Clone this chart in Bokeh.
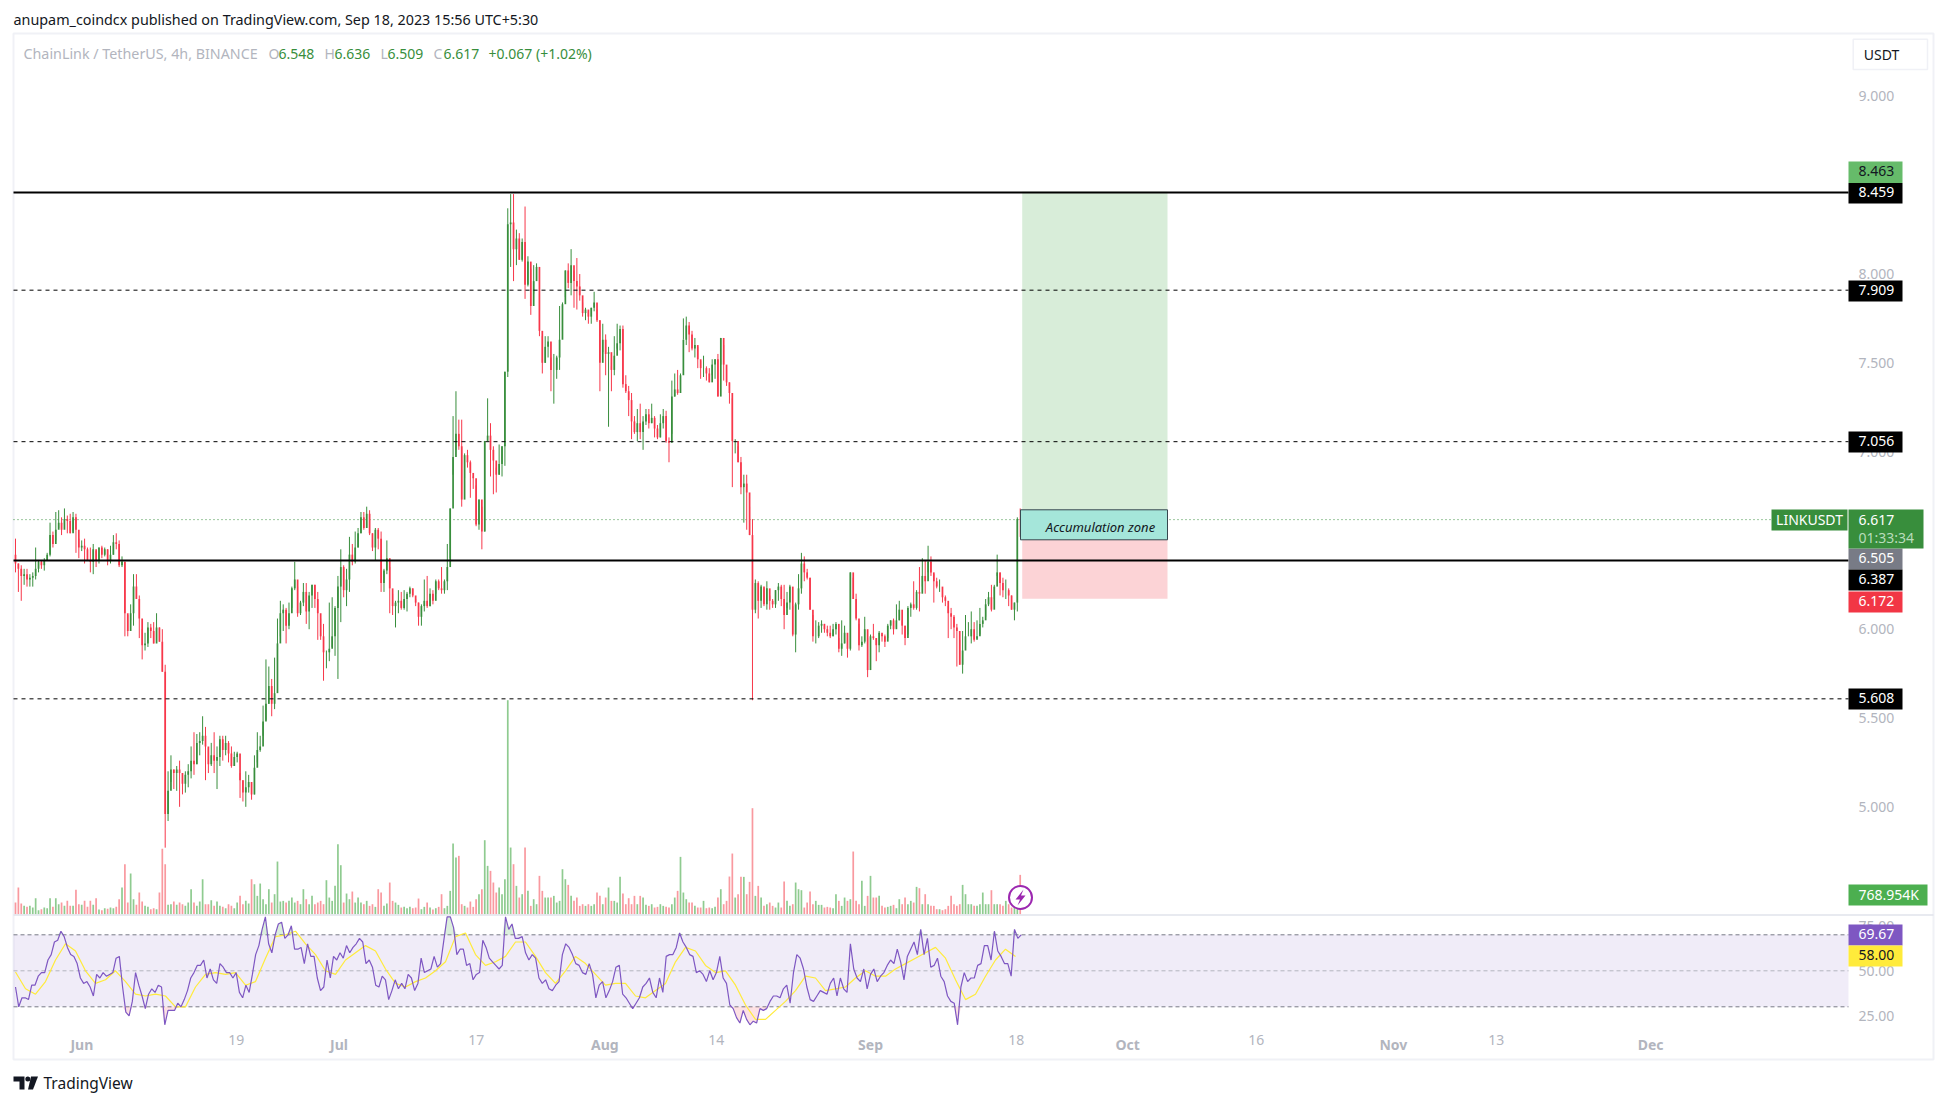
import numpy as np
from bokeh.plotting import figure
from bokeh.embed import file_html
from bokeh.resources import INLINE
from bokeh.core.properties import value
from bokeh.models import Range1d, LinearAxis, FixedTicker

FONT = "Noto Sans"

# ---- data: (close, high, low), about one bar per 8h ----
bars_may_jun = [
(6.37,6.51,6.32),(6.34,6.37,6.21),(6.30,6.36,6.16),(6.31,6.34,6.25),(6.28,6.34,6.24),(6.29,6.31,6.24),(6.30,6.32,6.24),(6.34,6.46,6.28),(6.38,6.39,6.32),(6.36,6.39,6.34),
(6.39,6.40,6.33),(6.42,6.43,6.39),(6.53,6.60,6.41),(6.48,6.55,6.46),(6.56,6.66,6.50),(6.60,6.67,6.57),(6.56,6.63,6.53),(6.62,6.68,6.59),(6.61,6.64,6.54),(6.54,6.65,6.54),
(6.63,6.66,6.55),(6.56,6.65,6.43),(6.46,6.51,6.40),(6.47,6.50,6.44),(6.45,6.51,6.37),(6.39,6.46,6.39),(6.38,6.46,6.32),(6.45,6.48,6.31),(6.39,6.44,6.35),(6.46,6.46,6.37),
(6.42,6.47,6.40),(6.45,6.46,6.41),(6.39,6.45,6.36),(6.42,6.47,6.37),(6.49,6.53,6.42),(6.48,6.54,6.45),(6.36,6.50,6.35),(6.38,6.41,6.35),(6.09,6.38,5.96),(5.99,6.08,5.96),
(6.09,6.14,6.05),(6.24,6.31,6.02),(6.17,6.31,6.17),(6.06,6.19,5.95),(5.91,6.00,5.83),(5.92,5.98,5.88),(6.01,6.04,5.90),(5.99,6.03,5.95),(5.92,6.04,5.92),(6.01,6.09,5.93),
(5.93,6.01,5.93),(5.76,6.00,5.76),(4.96,5.80,4.77),(5.09,5.20,4.92),(5.21,5.29,5.14),(5.19,5.21,5.10),(5.21,5.23,5.09),(5.19,5.26,5.00),(5.13,5.19,5.07),(5.18,5.20,5.08),
(5.20,5.24,5.11),(5.26,5.34,5.16),(5.24,5.42,5.18),(5.36,5.41,5.24),(5.37,5.42,5.29),(5.40,5.51,5.35),(5.34,5.45,5.15),(5.24,5.33,5.19),(5.29,5.36,5.23),(5.26,5.42,5.19),
(5.28,5.34,5.10),(5.38,5.40,5.23),(5.32,5.40,5.26),(5.36,5.40,5.29),(5.30,5.37,5.25),(5.23,5.34,5.22),(5.28,5.31,5.23),(5.30,5.31,5.25),(5.15,5.19,5.05),(5.08,5.15,5.03),
(5.11,5.20,5.00),(5.14,5.18,5.08),(5.07,5.13,5.04),(5.22,5.29,5.07),(5.32,5.42,5.25),(5.34,5.40,5.31),(5.48,5.57,5.40),(5.58,5.83,5.49),(5.68,5.79,5.58),(5.58,5.72,5.51),
(5.64,5.84,5.55),(5.92,6.06,5.77),(6.09,6.16,5.96),(6.11,6.14,5.99),(6.02,6.12,5.92),(6.09,6.15,6.00),(6.23,6.24,6.12),(6.28,6.38,6.22),(6.09,6.24,6.07),(6.15,6.16,6.08),
(6.21,6.26,6.13),(6.10,6.26,6.03),(6.19,6.21,6.00),(6.25,6.25,6.12),(6.17,6.25,6.12),(6.09,6.21,5.94),(5.96,6.06,5.94),(5.87,6.03,5.71),(5.87,5.88,5.78),(5.89,6.15,5.82),
(5.96,6.18,5.90),(6.12,6.13,5.85),(6.24,6.30,5.72),(6.35,6.45,6.04),(6.22,6.36,6.18),(6.28,6.34,6.13),(6.42,6.52,6.21),
]
bars_jul_aug = [
(6.38,6.48,6.36),(6.46,6.55,6.37),(6.54,6.57,6.46),(6.63,6.66,6.54),(6.57,6.66,6.56),(6.65,6.69,6.57),(6.54,6.67,6.53),(6.46,6.54,6.44),(6.56,6.57,6.39),(6.51,6.57,6.45),
(6.26,6.55,6.21),(6.33,6.34,6.21),(6.40,6.50,6.31),(6.23,6.35,6.09),(6.13,6.20,6.08),(6.15,6.16,6.01),(6.16,6.22,6.09),(6.12,6.21,6.11),(6.17,6.22,6.11),(6.20,6.21,6.10),
(6.23,6.24,6.18),(6.19,6.23,6.18),(6.15,6.17,6.13),(6.07,6.15,6.02),(6.13,6.14,6.02),(6.16,6.28,6.10),(6.13,6.30,6.12),(6.20,6.23,6.13),(6.16,6.22,6.14),(6.27,6.28,6.20),
(6.23,6.28,6.22),(6.22,6.35,6.20),(6.27,6.28,6.20),(6.35,6.48,6.22),(6.68,6.68,6.40),(6.97,7.20,6.87),(7.10,7.34,7.01),(7.03,7.18,7.01),(6.73,7.18,6.69),(6.98,6.99,6.85),
(6.94,7.01,6.91),(6.88,6.95,6.74),(6.85,6.86,6.79),(6.59,6.81,6.58),(6.73,6.73,6.56),(6.55,6.69,6.45),(7.06,7.06,6.55),(7.09,7.30,7.08),(7.01,7.16,6.86),(6.95,7.03,6.76),
(6.87,6.91,6.77),(6.93,7.04,6.87),(7.03,7.03,6.86),(7.45,7.45,6.92),(8.28,8.37,7.42),(8.29,8.45,8.04),(8.14,8.45,7.96),(8.20,8.25,8.05),(8.08,8.23,8.08),(8.18,8.20,8.07),
(7.94,8.38,7.86),(8.07,8.10,7.93),(7.82,8.03,7.77),(7.96,8.05,7.89),(8.04,8.06,7.97),(7.68,7.89,7.65),(7.50,7.65,7.44),(7.59,7.65,7.50),(7.62,7.65,7.53),(7.46,7.53,7.34),
(7.46,7.55,7.27),(7.53,7.54,7.41),(7.63,7.82,7.46),(7.83,7.84,7.68),(8.02,8.02,7.87),(7.95,8.06,7.92),(8.05,8.14,7.88),(7.96,8.02,7.81),(7.93,8.09,7.80),(7.88,8.00,7.85),
(7.78,7.84,7.76),(7.80,7.81,7.74),(7.76,7.79,7.72),(7.81,7.81,7.72),(7.84,7.90,7.79),(7.74,7.80,7.73),(7.50,7.74,7.34),(7.63,7.72,7.56),(7.55,7.66,7.43),(7.56,7.59,7.14),
(7.46,7.48,7.34),(7.54,7.65,7.43),(7.61,7.72,7.58),(7.69,7.71,7.57),(7.38,7.71,7.36),(7.34,7.43,7.33),(7.29,7.37,7.20),(7.17,7.33,7.07),(7.11,7.20,7.10),(7.16,7.24,7.06),
(7.11,7.27,7.07),(7.17,7.20,7.01),(7.21,7.24,7.15),(7.16,7.24,7.13),(7.19,7.27,7.16),(7.13,7.20,7.08),(7.08,7.15,7.07),(7.16,7.21,7.08),(7.20,7.24,7.13),(7.06,7.23,7.05),
(7.05,7.08,6.94),(7.31,7.40,7.10),(7.35,7.44,7.31),(7.33,7.46,7.32),(7.43,7.44,7.35),
]
bars_aug_sep = [
(7.63,7.75,7.63),(7.71,7.76,7.60),(7.66,7.73,7.56),(7.58,7.68,7.57),(7.60,7.64,7.53),(7.52,7.59,7.47),(7.47,7.51,7.41),(7.47,7.54,7.42),(7.44,7.48,7.40),(7.39,7.47,7.39),
(7.49,7.52,7.43),(7.52,7.52,7.41),(7.31,7.55,7.31),(7.64,7.64,7.49),(7.49,7.60,7.40),(7.39,7.46,7.37),(7.33,7.39,7.27),(7.06,7.30,6.80),(7.06,7.07,6.99),(6.94,7.03,6.94),
(6.80,6.97,6.76),(6.82,6.87,6.60),(6.77,6.87,6.56),(6.53,6.69,6.53),(6.11,6.62,5.60),(6.26,6.28,6.09),(6.16,6.27,6.06),(6.24,6.25,6.12),(6.14,6.23,6.13),(6.23,6.27,6.11),
(6.16,6.19,6.11),(6.14,6.17,6.12),(6.22,6.22,6.12),(6.24,6.26,6.16),(6.17,6.25,6.13),(6.08,6.25,6.00),(6.15,6.21,6.12),(6.24,6.25,6.11),(5.97,6.13,5.96),(6.14,6.15,5.87),
(6.23,6.31,6.11),(6.37,6.43,6.20),(6.32,6.41,6.27),(6.29,6.34,6.28),(6.11,6.29,6.11),(5.96,6.08,5.93),(5.96,6.05,5.92),(6.02,6.04,5.95),(6.03,6.05,5.98),(6.00,6.03,5.98),
(5.98,6.02,5.96),(5.96,6.02,5.95),(6.00,6.03,5.96),(6.03,6.04,5.97),(5.89,5.95,5.87),(5.92,6.05,5.85),(5.98,6.02,5.92),(5.89,5.95,5.84),(6.32,6.32,5.88),(6.17,6.29,6.17),
(6.06,6.20,6.05),(5.91,6.03,5.88),(5.93,5.96,5.90),(6.00,6.07,5.92),(5.77,5.95,5.73),(5.96,5.97,5.87),(5.95,6.03,5.94),(5.91,5.95,5.82),(5.98,5.99,5.87),(5.96,5.97,5.93),
(5.93,5.97,5.90),(6.02,6.03,5.95),(6.05,6.05,6.00),(6.00,6.06,5.97),(6.05,6.14,6.01),(6.11,6.16,6.05),(6.02,6.05,5.97),(5.95,6.02,5.91),(6.12,6.13,5.97),(6.14,6.15,6.07),
(6.12,6.27,6.11),(6.21,6.22,6.11),(6.20,6.35,6.10),(6.30,6.40,6.24),(6.27,6.39,6.20),(6.38,6.47,6.32),(6.32,6.41,6.30),(6.27,6.31,6.15),(6.24,6.29,6.23),(6.24,6.28,6.21),
(6.18,6.22,6.15),(6.16,6.19,6.13),(6.09,6.13,5.95),(6.07,6.12,6.00),(6.01,6.08,5.95),(5.99,6.03,5.79),(5.80,5.94,5.80),(5.88,5.99,5.75),(5.96,6.08,5.89),(5.96,6.04,5.96),
(6.00,6.10,5.92),(5.94,6.04,5.93),(5.96,6.05,5.95),(6.03,6.12,5.97),(6.05,6.07,6.01),(6.14,6.17,6.07),(6.18,6.21,6.13),(6.11,6.25,6.10),(6.24,6.25,6.17),(6.32,6.42,6.30),
(6.26,6.32,6.19),(6.22,6.29,6.18),(6.22,6.28,6.17),(6.19,6.23,6.13),(6.11,6.19,6.11),(6.15,6.15,6.05),(6.62,6.63,6.10),(6.617,6.68,6.52),
]
# volume per bar, in lots of 12.8K
volume_lots = [
35,80,32,25,22,25,20,48,12,15,20,18,48,22,48,30,35,25,40,25,25,73,30,28,40,22,40,28,48,14,12,18,16,20,18,22,45,80,150,35,122,45,28,65,38,25,22,15,18,15,65,196,150,28,30,38,28,35,30,25,35,75,35,25,38,105,30,30,42,25,38,25,22,18,30,25,18,35,55,30,40,32,105,90,55,92,45,30,75,35,60,158,38,40,35,40,50,35,40,30,75,45,30,55,30,35,40,30,102,50,40,85,210,147,35,62,45,68,35,50,35,30,40,25,30,22,75,65,25,32,95,40,35,28,20,22,18,22,18,20,47,15,22,35,20,14,18,22,60,18,25,70,212,170,175,30,25,20,38,22,45,60,75,222,145,130,95,65,80,60,105,642,200,150,85,50,
60,200,70,25,45,30,115,70,50,50,50,55,35,40,135,105,88,55,40,50,25,30,25,30,25,30,65,55,30,50,80,40,40,35,112,62,30,48,30,55,30,55,50,28,25,30,20,22,30,25,22,20,30,50,70,172,65,45,35,35,25,20,20,40,18,20,18,22,50,75,30,40,113,182,50,60,112,112,60,97,318,55,85,50,25,30,35,25,20,35,20,98,40,25,30,95,75,72,20,35,68,30,40,28,28,20,22,20,18,60,40,25,50,40,45,188,40,30,100,25,55,115,50,50,55,25,20,22,25,28,18,45,30,50,30,40,35,82,78,30,60,30,25,25,15,15,12,15,25,55,30,25,30,88,60,30,30,25,25,30,65,30,30,72,30,30,30,25,40,30,20,25,15,118,
]
rsi_first_half = [
41,30,35,35,34,42,42,47,49,49,56,59,66,67,72,69,63,59,58,54,46,43,44,41,36,48,46,49,47,48,49,57,58,41,27,25,33,49,42,36,29,37,40,38,42,41,20,28,28,28,32,30,34,39,46,49,53,53,56,46,51,45,43,54,52,49,49,46,49,38,35,42,38,48,59,64,73,80,65,60,70,76,77,68,70,75,62,62,63,54,65,58,58,46,39,41,56,46,58,56,60,57,64,60,63,65,68,66,54,56,52,42,41,47,45,34,39,45,40,43,40,48,46,39,43,57,49,50,51,58,52,54,67,80,80,74,59,62,62,53,54,45,48,49,67,63,57,55,53,51,53,80,73,76,68,68,
]
rsi_second_half = [
69,60,56,59,57,46,43,45,40,39,42,44,59,65,63,59,54,53,49,48,54,48,35,42,44,35,39,44,52,53,37,35,32,29,32,35,41,43,46,38,35,46,38,58,59,59,63,71,66,63,59,58,49,50,48,44,50,45,49,58,46,43,31,29,24,21,28,23,20,22,21,29,28,29,33,36,36,35,40,42,32,49,59,57,51,41,34,33,36,39,38,37,43,46,36,46,40,38,65,51,46,44,51,40,48,51,44,47,49,53,56,54,62,55,45,58,62,66,59,73,59,68,52,53,57,47,44,36,33,32,20,41,49,44,46,46,53,54,64,64,56,72,61,58,54,54,47,73,68,70,
]
rsi_ma_values = [
49.3,40,37,44,56,65,61,50,43,45,50,44,37,36,37,36,30,30,41,48,49,48,49,42,44,57,69,70,72,65,59,50,48,56,60,64,61,51,43,41,44,46,50,55,69,71,59,53,55,58,66,
66,58,49,43,50,58,54,48,42,43,43,36,35,39,43,55,63,61,53,49,50,42,31,23,23,28,33,39,47,46,39,40,41,46,50,47,47,51,54,57,60,63,57,45,34,37,47,56,62,58,
]
level_solid = [8.459, 6.387]
level_dashed = [7.909, 7.056, 5.608]
target_price, entry_price, stop_price = 8.463, 6.505, 6.172
last_price = 6.617
price_ticks = [5, 5.5, 6, 6.5, 7, 7.5, 8, 8.5, 9]
rsi_ticks = [25, 50, 75]
month_ticks = {0: "Jun", 30: "Jul", 61: "Aug", 92: "Sep", 122: "Oct", 153: "Nov", 183: "Dec"}
day_ticks = {18: "19", 46: "17", 74: "14", 109: "18", 137: "16", 165: "13"}

# ---- page geometry (page pixels) ----
W, H = 1938, 1096
L, T, R, B = 13, 33, 1933, 1059
AX = 1848
X = lambda px: (px - 81.4) / 8.572          # page px -> days since 1 Jun
Y = lambda py: 8.459 - (py - 192) / 177.6   # page px -> price
GREEN, RED, GREY = "#388e3c", "#f7374a", "#b2b5be"

p = figure(width=W, height=H, output_backend="svg", toolbar_location=None,
           x_axis_type=None, y_axis_type=None, tools="",
           x_range=Range1d(X(0), X(W)), y_range=Range1d(Y(H), Y(0)),
           min_border_left=0, min_border_right=0, min_border_top=0, min_border_bottom=0,
           outline_line_color=None)
p.grid.visible = False
p.extra_y_ranges = {
    "rsi": Range1d(50 - (H - 970.3) / 1.8, 50 + 970.3 / 1.8),
    "vol": Range1d(-(H - 913.7) * 3, 913.7 * 3),
}

# frame
p.quad(left=X(L), right=X(R), top=Y(T), bottom=Y(B), fill_color=None, line_color="#f0f1f6", line_width=2)

# volume
bars = bars_may_jun + bars_jul_aug + bars_aug_sep
close = np.array([b[0] for b in bars]); high = np.array([b[1] for b in bars]); low = np.array([b[2] for b in bars])
open_ = np.r_[6.42, close[:-1]]
first_day, last_day = X(15), X(1019.7)
days = np.linspace(first_day, last_day, len(bars))
step = days[1] - days[0]
up = close >= open_
vdays = first_day + np.arange(len(volume_lots)) * step
n = min(len(volume_lots), len(bars))
p.vbar(x=vdays[:n], top=volume_lots[:n], bottom=0, width=0.2, y_range_name="vol",
       color=["#8fcb90" if u else "#f9999f" for u in up[:n]], line_color=None)

# RSI band and lines
p.quad(left=X(L), right=X(AX), bottom=30, top=70, y_range_name="rsi", fill_color="#7e57c2", fill_alpha=0.115, line_color=None)
for lv, c in ((70, "#787b86"), (50, "#b2b5be"), (30, "#787b86")):
    p.segment(x0=X(L), x1=X(AX), y0=lv, y1=lv, y_range_name="rsi", line_color=c, line_width=1, line_dash="4 3")
rsi = np.array(rsi_first_half + rsi_second_half, dtype=float)
rsi_days = np.r_[np.linspace(X(15), X(518), len(rsi_first_half)), np.linspace(X(521.7), X(1020.7), len(rsi_second_half))]
p.varea(x=rsi_days, y1=np.minimum(rsi, 30), y2=30, y_range_name="rsi", fill_color="#f23645", fill_alpha=0.15)
p.varea(x=rsi_days, y1=np.maximum(rsi, 70), y2=70, y_range_name="rsi", fill_color="#4caf50", fill_alpha=0.2)
ma_days = np.linspace(X(15), X(1015), len(rsi_ma_values))
p.line(ma_days, rsi_ma_values, y_range_name="rsi", line_color="#ffeb3b", line_width=1.2)
p.line(rsi_days, rsi, y_range_name="rsi", line_color="#7e57c2", line_width=1.2)

# position tool
p.quad(left=X(1021.7), right=X(1167), bottom=entry_price, top=target_price, fill_color="#4caf50", fill_alpha=0.22, line_color=None)
p.quad(left=X(1021.7), right=X(1167), bottom=stop_price, top=entry_price, fill_color="#f23645", fill_alpha=0.22, line_color=None)

# price lines
p.segment(x0=X(L), x1=X(AX), y0=last_price, y1=last_price, line_color=GREEN, line_width=1, line_dash="1 3")

# candles
p.segment(x0=days, x1=days, y0=low, y1=high, line_width=1, color=[GREEN if u else RED for u in up])
p.vbar(x=days, top=np.maximum(open_, close), bottom=np.minimum(open_, close), width=0.2,
       fill_color=[GREEN if u else RED for u in up], line_color=None)

# levels
for lv in level_solid:
    p.segment(x0=X(L), x1=X(AX), y0=lv, y1=lv, line_color="#000000", line_width=2)
for lv in level_dashed:
    p.segment(x0=X(L), x1=X(AX), y0=lv, y1=lv, line_color="#000000", line_width=1, line_dash="4 4")

# annotation box on top of the position tool
p.quad(left=X(1020), right=X(1167), bottom=Y(539.3), top=Y(509.3), fill_color="#a5e6da", line_color="#37474f", line_width=1)
p.text(x=[X(1100)], y=[Y(526)], text=["Accumulation zone"], text_font=value(FONT), text_font_size="13px",
       text_font_style="italic", text_color="#131722", text_align="center", text_baseline="middle")

# pane separator
p.segment(x0=X(L), x1=X(R), y0=Y(914.5), y1=Y(914.5), line_color="#e0e3eb", line_width=1.5)

# axes (inside the frame, at fixed places)
ax = LinearAxis(fixed_location=X(AX), ticker=FixedTicker(ticks=price_ticks))
ax.major_label_overrides = {t: f"{t:.3f}" for t in price_ticks}
ax2 = LinearAxis(fixed_location=X(AX), y_range_name="rsi", ticker=FixedTicker(ticks=rsi_ticks))
ax2.major_label_overrides = {t: f"{t:.2f}" for t in rsi_ticks}
xa = LinearAxis(fixed_location=Y(1027), ticker=FixedTicker(ticks=list(month_ticks)), major_label_overrides=month_ticks)
xb = LinearAxis(fixed_location=Y(1027), ticker=FixedTicker(ticks=list(day_ticks)), major_label_overrides=day_ticks)
for a in (ax, ax2, xa, xb):
    a.axis_line_color = None
    a.major_tick_line_color = None
    a.minor_tick_line_color = None
    a.major_label_text_color = GREY
    a.major_label_text_font = FONT
    a.major_label_text_font_size = "14px"
    a.major_tick_in = 0
    a.major_tick_out = 0
ax.major_label_standoff = 10
ax2.major_label_standoff = 10
xa.major_label_standoff = 7
xb.major_label_standoff = 7
xa.major_label_text_font_style = "bold"
p.add_layout(ax, "right"); p.add_layout(ax2, "right"); p.add_layout(xa, "below"); p.add_layout(xb, "below")

# price tags: text, left, right, top, bottom (page px), fill, text colour
tags = [
    ("8.463", AX, 1902, 161, 182.5, "#66bb6a", "#131722"),
    ("8.459", AX, 1902, 182.5, 203, "#000000", "#ffffff"),
    ("7.909", AX, 1902, 280, 301, "#000000", "#ffffff"),
    ("7.056", AX, 1902, 431, 452, "#000000", "#ffffff"),
    ("6.505", AX, 1902, 548, 569, "#787b86", "#ffffff"),
    ("6.387", AX, 1902, 569, 590, "#000000", "#ffffff"),
    ("6.172", AX, 1902, 591, 612, "#f23645", "#ffffff"),
    ("5.608", AX, 1902, 688, 709, "#000000", "#ffffff"),
    ("768.954K", AX, 1927, 884, 905, "#4caf50", "#ffffff"),
    ("69.67", AX, 1902, 924, 945, "#7e57c2", "#ffffff"),
    ("58.00", AX, 1902, 945, 966, "#ffeb3b", "#131722"),
]
def tag_box(left, right, top, bottom, fill):
    p.quad(left=X(left), right=X(right), top=Y(top), bottom=Y(bottom), fill_color=fill, line_color=None, level="overlay")
def tag_text(px, py, txt, color, align="left", size="14px"):
    p.text(x=[X(px)], y=[Y(py - 1)], text=[txt], text_color=color, text_font=value(FONT), text_font_size=size,
           text_align=align, text_baseline="middle", level="overlay")
for txt, l, r, t, b, fill, col in tags:
    tag_box(l, r, t, b, fill)
    tag_text(1858, (t + b) / 2, txt, col)
tag_box(1771, AX - 1, 509, 530, GREEN)
tag_text(1809, 519.5, "LINKUSDT", "#ffffff", "center")
tag_box(AX, 1923, 509, 548, GREEN)
tag_text(1858, 520, "6.617", "#ffffff")
tag_text(1858, 538, "01:33:34", "#b9dcbb")
p.quad(left=X(1852.7), right=X(1927), top=Y(38.7), bottom=Y(69), fill_color="#ffffff", line_color="#f0f1f6", line_width=1.5, level="overlay")
tag_text(1881, 54.5, "USDT", "#131722", "center", "14px")

# bolt marker
p.scatter(x=[X(1020)], y=[Y(897)], size=23, marker="circle", fill_color="#ffffff", line_color="#9c27b0", line_width=2, level="overlay")
p.patch(x=[X(v) for v in (1023, 1015, 1019.5, 1017, 1025, 1020.5)], y=[Y(v) for v in (889, 899, 899, 905, 895, 895)],
        fill_color="#9c27b0", line_color=None, level="overlay")

# header and footer text
tag_text(13, 20, "anupam_coindcx published on TradingView.com, Sep 18, 2023 15:56 UTC+5:30", "#131722", size="14.35px")
tag_text(23, 54, "ChainLink / TetherUS, 4h, BINANCE", GREY, size="14.3px")
for px, txt, c in ((268, "O", GREY), (278, "6.548", GREEN), (324, "H", GREY), (334, "6.636", GREEN), (380, "L", GREY), (387, "6.509", GREEN),
                   (433, "C", GREY), (443, "6.617", GREEN), (488, "+0.067 (+1.02%)", GREEN)):
    tag_text(px, 54, txt, c, size="14px")
tag_text(43, 1083.5, "TradingView", "#131722", size="15.5px")

# logo
p.patch(x=[X(v) for v in (13, 24, 24, 19, 19, 13)], y=[Y(v) for v in (1076, 1076, 1089, 1089, 1081, 1081)], fill_color="#131722", line_color=None)
p.scatter(x=[X(27.3)], y=[Y(1078.5)], size=5, marker="circle", fill_color="#131722", line_color=None)
p.patch(x=[X(v) for v in (30.5, 37.5, 32.5, 27.5)], y=[Y(v) for v in (1076, 1076, 1089, 1089)], fill_color="#131722", line_color=None)

open("out.html", "w").write(file_html(p, INLINE))
